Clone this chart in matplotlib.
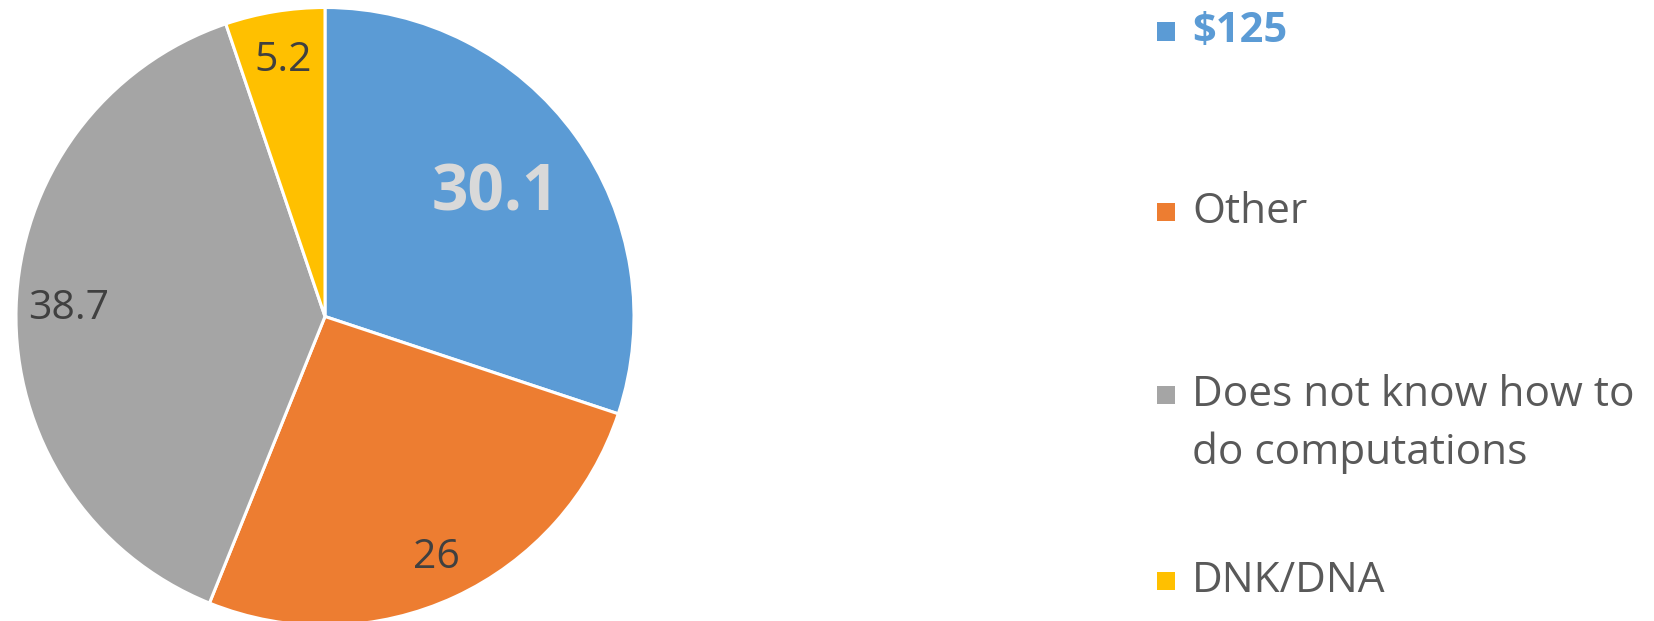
import matplotlib
matplotlib.use("Agg")
import matplotlib.pyplot as plt
from matplotlib.patches import Rectangle
import numpy as np

categories = ["$125", "Other", "Does not know how to\ndo computations", "DNK/DNA"]
values = [30.1, 26, 38.7, 5.2]
value_labels = ["30.1", "26", "38.7", "5.2"]
colors = ["#5B9BD5", "#ED7D31", "#A5A5A5", "#FFC000"]

W, H = 1654, 621
fig = plt.figure(figsize=(W / 100, H / 100), dpi=100)
plt.rcParams['font.family'] = ['Open Sans', 'DejaVu Sans']

cx, cy, r = 325, 621 - 316.5, 309
ax = fig.add_axes([(cx - r) / W, (cy - r) / H, 2 * r / W, 2 * r / H])
wedges, _ = ax.pie(values, startangle=90, counterclock=False, colors=colors,
                   radius=1, wedgeprops=dict(edgecolor="white", linewidth=2.2))
ax.set_xlim(-1, 1)
ax.set_ylim(-1, 1)
ax.set_aspect("auto")
ax.axis("off")

dists = [0.68, 0.86, 0.83, 0.84]
for i, w in enumerate(wedges):
    ang = np.deg2rad((w.theta1 + w.theta2) / 2)
    x, y = dists[i] * np.cos(ang), dists[i] * np.sin(ang)
    if i == 0:
        ax.text(x, y, value_labels[i], ha="center", va="center", fontsize=46,
                fontweight="bold", color="#D9D9D9", clip_on=False)
    else:
        ax.text(x, y, value_labels[i], ha="center", va="center", fontsize=29.5,
                color="#404040", clip_on=False)

# legend
leg_y = [31.5, 212, 395, 581]
line_gap = 58
sq = 18
for i, (lab, yy) in enumerate(zip(categories, leg_y)):
    fig.patches.append(Rectangle((1157 / W, (H - yy - sq / 2) / H), sq / W, sq / H,
                                 transform=fig.transFigure, facecolor=colors[i],
                                 edgecolor="none"))
    for k, line in enumerate(lab.split("\n")):
        y_line = yy + k * line_gap
        if i == 0:
            fig.text(1192 / W, (H - y_line) / H, line, ha="left", va="center",
                     fontsize=30, fontweight="bold", color="#5B9BD5")
        else:
            fig.text(1192 / W, (H - y_line) / H, line, ha="left", va="center",
                     fontsize=30.5, color="#595959")

fig.savefig("out.png", dpi=100)
